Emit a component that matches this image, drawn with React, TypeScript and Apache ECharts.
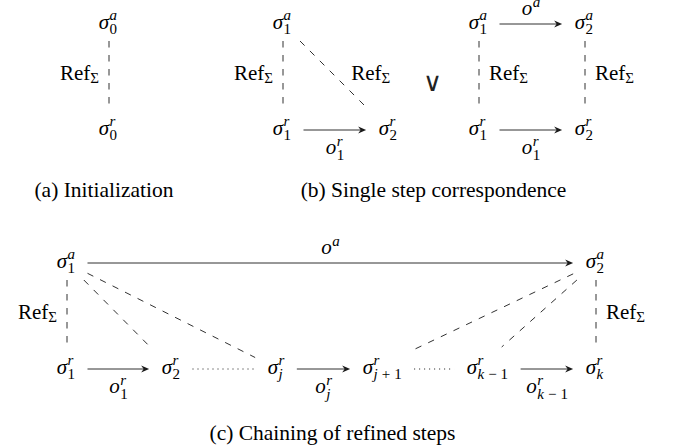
import React, { useEffect, useRef } from "react";
import * as echarts from "echarts";

const WIDTH = 673;
const HEIGHT = 448;

// ---------------- diagram data ----------------
// nodes: σ with a superscript and a subscript
const nodeIds = ["s0a", "s0r", "b1a", "b1r", "b2r", "c1a", "c2a", "c1r", "c2r", "d1a", "d2a", "d1r", "d2r", "djr", "dj1r", "dk1r", "dkr"];
const nodeSup = ["a", "r", "a", "r", "r", "a", "a", "r", "r", "a", "a", "r", "r", "r", "r", "r", "r"];
const nodeSub = ["0", "0", "1", "1", "2", "1", "2", "1", "2", "1", "2", "1", "2", "j", "j+1", "k−1", "k"];
// node anchors in diagram units (x: right edge of σ, y: math axis of the row)
const nodeX = [109, 109, 283, 283, 389, 479, 585, 479, 585, 67, 596, 67, 172, 278, 373, 477, 596];
const nodeY = [24, 130, 24, 130, 130, 24, 24, 130, 130, 263, 263, 369, 369, 369, 369, 369, 369];

// edges
const edgeFrom = ["s0a", "b1a", "b1a", "b1r", "c1a", "c1r", "c1a", "c2a", "d1a", "d1a", "d1a", "d1a", "d1r", "d2r", "djr", "dj1r", "dk1r", "d2a", "d2a", "d2a"];
const edgeTo = ["s0r", "b1r", "b2r", "b2r", "c2a", "c2r", "c1r", "c2r", "d2a", "d1r", "d2r", "djr", "d2r", "djr", "dj1r", "dk1r", "dkr", "dj1r", "dk1r", "dkr"];
const edgeKind = ["dashed", "dashed", "dashed", "arrow", "arrow", "arrow", "dashed", "dashed", "arrow", "dashed", "dashed", "dashed", "arrow", "dotted", "arrow", "dotted", "arrow", "dashed", "dashed", "dashed"];

// edge labels
const labelEdge = [0, 1, 2, 3, 4, 5, 6, 7, 8, 9, 12, 14, 16, 19];
const labelBase = ["Ref", "Ref", "Ref", "o", "o", "o", "Ref", "Ref", "o", "Ref", "o", "o", "o", "Ref"];
const labelSup = ["", "", "", "r", "a", "r", "", "", "a", "", "r", "r", "r", ""];
const labelSub = ["Σ", "Σ", "Σ", "1", "", "1", "Σ", "Σ", "", "Σ", "1", "j", "k−1", "Σ"];
const labelSide = ["left", "left", "right", "below", "above", "below", "right", "right", "above", "left", "below", "below", "below", "right"];

// captions and the disjunction sign
const captionText = ["(a) Initialization", "(b) Single step correspondence", "(c) Chaining of refined steps"];
const captionX = [104, 433.5, 332.5];
const captionY = [190, 190, 433];
const orText = ["∨"];
const orX = [432.5];
const orY = [81.5];

// ---------------- styles ----------------
const SERIF = "Liberation Serif";
const SYMBOL_FONT = "DejaVu Serif";
const INK = "#000";
const LINE = "#1a1a1a";
const MAIN = 21;
const SCRIPT = 15;
const CAPTION = 21.5;
const CENTRAL = 0.34;
const BIN_PAD = 4;
const SUP_UP = 8.5;
const SUB_DOWN = 5.5;
const AXIS_TO_BASE = 5;
const PAD_X = 12.5;
const BOX_UP = 22;
const BOX_DOWN = 17;
const OR_SIZE = 26;

let mctx: CanvasRenderingContext2D | null = null;
function textWidth(f: string, s: string): number {
  if (!mctx) mctx = document.createElement("canvas").getContext("2d");
  if (!mctx) return s.length * 8;
  mctx.font = f;
  return mctx.measureText(s).width;
}
function fontOf(size: number, italic: boolean, family: string = SERIF) {
  return `${italic ? "italic " : ""}${size}px "${family}"`;
}
function txt(s: string, x: number, baseline: number, size: number, italic: boolean, align: string, family: string = SERIF, color: string = INK) {
  return {
    type: "text",
    style: {
      text: s,
      x,
      y: baseline - CENTRAL * size,
      fontFamily: family,
      fontSize: size,
      fontStyle: italic ? "italic" : "normal",
      fill: color,
      align,
      verticalAlign: "middle",
    },
  };
}
type Part = { t: string; italic: boolean; pad: number };
function scriptParts(s: string): Part[] {
  return Array.from(s).map((ch) => {
    if (/[a-z]/.test(ch)) return { t: ch, italic: true, pad: 0 };
    if (ch === "+" || ch === "−") return { t: ch, italic: false, pad: BIN_PAD };
    return { t: ch, italic: false, pad: 0 };
  });
}
function scriptWidth(s: string) {
  return scriptParts(s).reduce((w, p) => w + textWidth(fontOf(SCRIPT, p.italic), p.t) + 2 * p.pad, 0);
}
function scriptEls(s: string, x: number, baseline: number) {
  const out: any[] = [];
  let cx = x;
  for (const p of scriptParts(s)) {
    cx += p.pad;
    out.push(txt(p.t, cx, baseline, SCRIPT, p.italic, "left"));
    cx += textWidth(fontOf(SCRIPT, p.italic), p.t) + p.pad;
  }
  return out;
}
function nodeIndex(id: string) {
  return nodeIds.indexOf(id);
}
function nodeBox(i: number, px: number, py: number) {
  const sw = textWidth(fontOf(MAIN, true), "σ");
  const scw = Math.max(scriptWidth(nodeSup[i]), scriptWidth(nodeSub[i]));
  return { l: px - sw - PAD_X, r: px + 0.5 + scw + PAD_X, t: py - BOX_UP, b: py + BOX_DOWN };
}
function exitPoint(fx: number, fy: number, tx: number, ty: number, box: { l: number; r: number; t: number; b: number }) {
  const dx = tx - fx;
  const dy = ty - fy;
  let t = Infinity;
  if (dx > 0) t = Math.min(t, (box.r - fx) / dx);
  if (dx < 0) t = Math.min(t, (box.l - fx) / dx);
  if (dy > 0) t = Math.min(t, (box.b - fy) / dy);
  if (dy < 0) t = Math.min(t, (box.t - fy) / dy);
  if (!isFinite(t)) t = 0;
  return [fx + t * dx, fy + t * dy];
}

function renderNode(_params: any, api: any) {
  const i = api.value(2);
  const [px, py] = api.coord([api.value(0), api.value(1)]);
  const base = py + AXIS_TO_BASE;
  const children: any[] = [txt("σ", px, base, MAIN, true, "right")];
  children.push(...scriptEls(nodeSup[i], px + 0.5, base - SUP_UP));
  children.push(...scriptEls(nodeSub[i], px + 0.5, base + SUB_DOWN));
  return { type: "group", children };
}

function renderEdge(_params: any, api: any) {
  const k = api.value(4);
  const [ax, ay] = api.coord([api.value(0), api.value(1)]);
  const [bx, by] = api.coord([api.value(2), api.value(3)]);
  const fi = nodeIndex(edgeFrom[k]);
  const ti = nodeIndex(edgeTo[k]);
  const p = exitPoint(ax, ay, bx, by, nodeBox(fi, ax, ay));
  const q = exitPoint(bx, by, ax, ay, nodeBox(ti, bx, by));
  const len = Math.hypot(q[0] - p[0], q[1] - p[1]) || 1;
  const ux = (q[0] - p[0]) / len;
  const uy = (q[1] - p[1]) / len;
  const nx = -uy;
  const ny = ux;
  const kind = edgeKind[k];
  const children: any[] = [];
  const endX = kind === "arrow" ? q[0] - 5 * ux : q[0];
  const endY = kind === "arrow" ? q[1] - 5 * uy : q[1];
  children.push({
    type: "line",
    shape: { x1: p[0], y1: p[1], x2: endX, y2: endY },
    style: {
      stroke: LINE,
      lineWidth: kind === "dotted" ? 1 : 0.9,
      lineDash: kind === "dashed" ? [6.5, 7.5] : kind === "dotted" ? [1, 4] : null,
      fill: null,
    },
  });
  if (kind === "arrow") {
    const L = 8;
    const Wd = 3.6;
    children.push({
      type: "polygon",
      shape: {
        points: [
          [q[0], q[1]],
          [q[0] - L * ux + Wd * nx, q[1] - L * uy + Wd * ny],
          [q[0] - 5.5 * ux, q[1] - 5.5 * uy],
          [q[0] - L * ux - Wd * nx, q[1] - L * uy - Wd * ny],
        ],
      },
      style: { fill: LINE, stroke: null },
    });
  }
  const j = labelEdge.indexOf(k);
  if (j >= 0) {
    const mx = (p[0] + q[0]) / 2;
    const my = (p[1] + q[1]) / 2;
    const side = labelSide[j];
    if (labelBase[j] === "Ref") {
      const wR = textWidth(fontOf(MAIN, false), "Ref");
      const w = wR + scriptWidth(labelSub[j]);
      const gap = 10 + 11 * Math.abs(ux);
      const x0 = side === "left" ? mx - gap - w : mx + gap;
      const bl = my + 6;
      children.push(txt("Ref", x0, bl, MAIN, false, "left"));
      children.push(...scriptEls(labelSub[j], x0 + wR, bl + 3));
    } else {
      const wo = textWidth(fontOf(MAIN, true), "o");
      const w = wo + Math.max(scriptWidth(labelSup[j]), scriptWidth(labelSub[j]));
      const x0 = mx - w / 2;
      const ob = side === "above" ? my - 8.5 : my + 24.5;
      children.push(txt("o", x0, ob, MAIN, true, "left"));
      if (labelSup[j]) children.push(...scriptEls(labelSup[j], x0 + wo + 0.5, ob - SUP_UP));
      if (labelSub[j]) children.push(...scriptEls(labelSub[j], x0 + wo + 0.5, ob + SUB_DOWN));
    }
  }
  return { type: "group", children };
}

function renderCaption(_params: any, api: any) {
  const i = api.value(2);
  const [px, py] = api.coord([api.value(0), api.value(1)]);
  return txt(captionText[i], px, py + CENTRAL * CAPTION, CAPTION, false, "center");
}

function renderOr(_params: any, api: any) {
  const i = api.value(2);
  const [px, py] = api.coord([api.value(0), api.value(1)]);
  return txt(orText[i], px, py + CENTRAL * OR_SIZE, OR_SIZE, false, "center", SYMBOL_FONT, "#222");
}

export default function App() {
  const ref = useRef<HTMLDivElement>(null);
  useEffect(() => {
    document.body.style.margin = "0";
    if (!ref.current) return;
    const chart = echarts.init(ref.current, undefined, { renderer: "svg" });
    const edgeData = edgeFrom.map((f, k) => {
      const a = nodeIndex(f);
      const b = nodeIndex(edgeTo[k]);
      return [nodeX[a], nodeY[a], nodeX[b], nodeY[b], k];
    });
    chart.setOption({
      animation: false,
      backgroundColor: "#fff",
      grid: { left: 0, right: 0, top: 0, bottom: 0 },
      xAxis: { type: "value", min: 0, max: WIDTH, show: false },
      yAxis: { type: "value", min: 0, max: HEIGHT, inverse: true, show: false },
      series: [
        {
          type: "custom",
          name: "edges",
          coordinateSystem: "cartesian2d",
          renderItem: renderEdge,
          encode: { x: [0, 2], y: [1, 3] },
          data: edgeData,
          silent: true,
        },
        {
          type: "custom",
          name: "nodes",
          coordinateSystem: "cartesian2d",
          renderItem: renderNode,
          encode: { x: 0, y: 1 },
          data: nodeIds.map((_id, i) => [nodeX[i], nodeY[i], i]),
          silent: true,
        },
        {
          type: "custom",
          name: "captions",
          coordinateSystem: "cartesian2d",
          renderItem: renderCaption,
          encode: { x: 0, y: 1 },
          data: captionText.map((_t, i) => [captionX[i], captionY[i], i]),
          silent: true,
        },
        {
          type: "custom",
          name: "or",
          coordinateSystem: "cartesian2d",
          renderItem: renderOr,
          encode: { x: 0, y: 1 },
          data: orText.map((_t, i) => [orX[i], orY[i], i]),
          silent: true,
        },
      ],
    });
    return () => chart.dispose();
  }, []);
  return <div ref={ref} style={{ width: WIDTH, height: HEIGHT }} />;
}
